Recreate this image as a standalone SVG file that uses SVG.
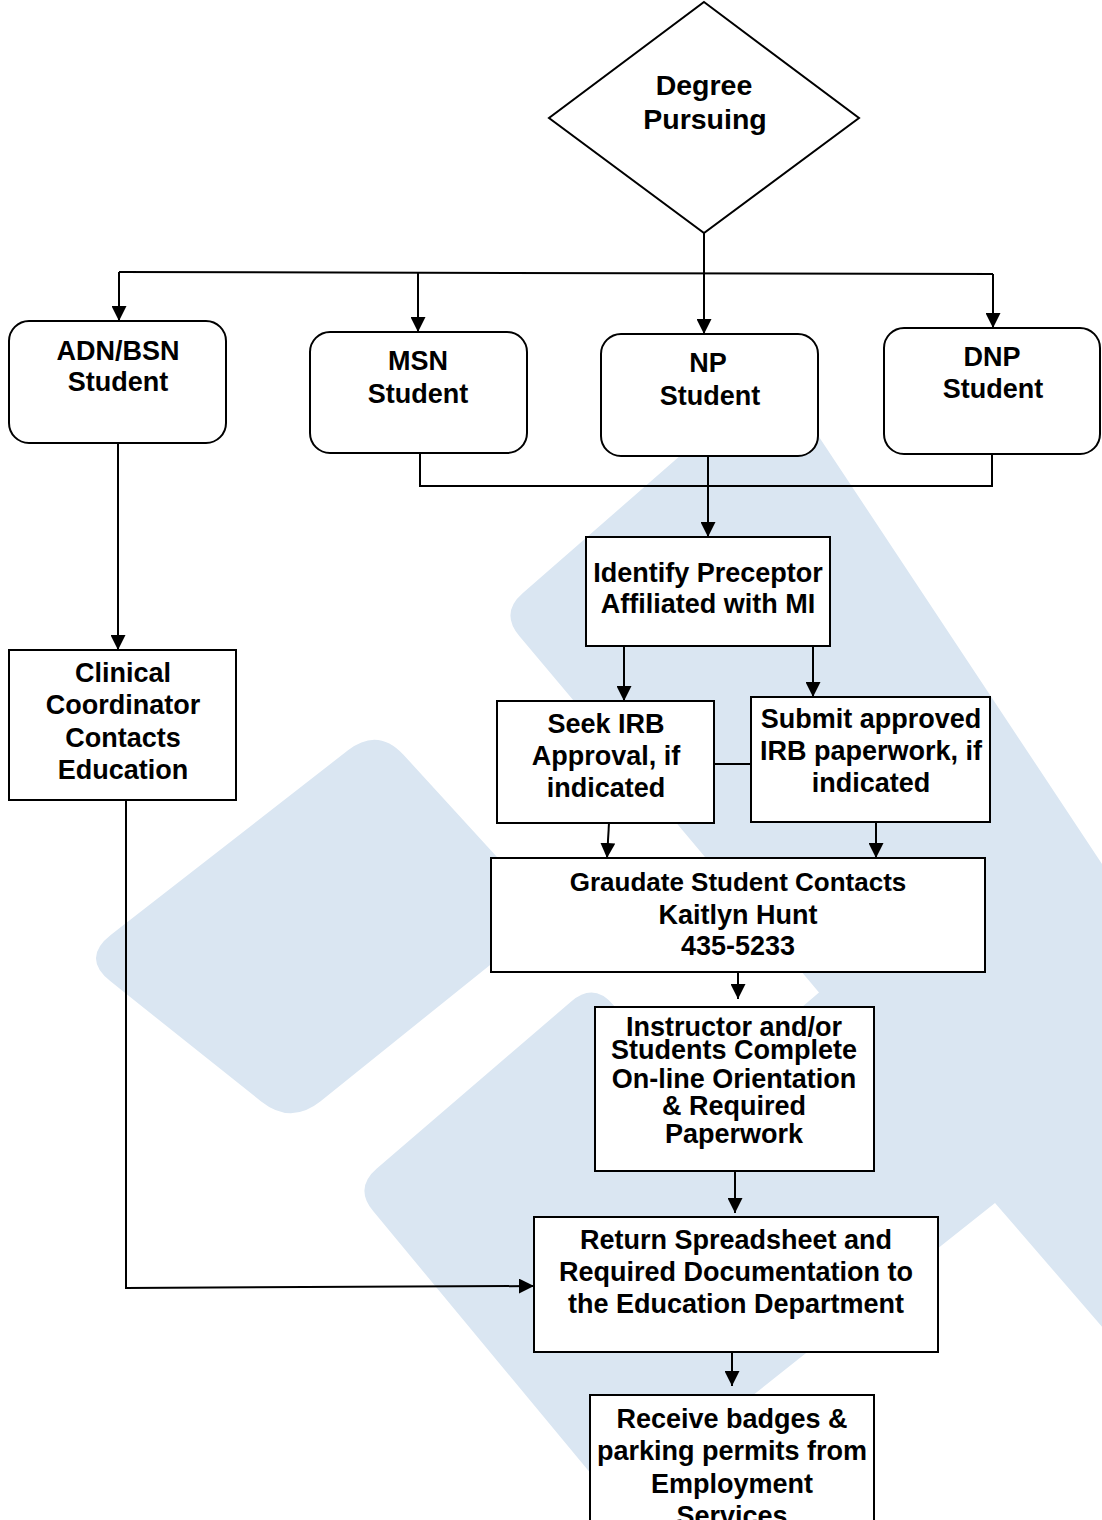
<svg xmlns="http://www.w3.org/2000/svg" width="1102" height="1520" viewBox="0 0 1102 1520">
<defs>
<style>
.bg{fill:#dae6f2;stroke:none}
.box{fill:#fff;stroke:#000;stroke-width:2}
.ln{fill:none;stroke:#000;stroke-width:2}
.t{font-family:"Liberation Sans",Arial,sans-serif;font-weight:bold;font-size:27px;fill:#000;text-anchor:middle}
</style>
<marker id="arr" markerUnits="userSpaceOnUse" markerWidth="15" markerHeight="15" refX="15" refY="7.5" orient="auto"><path d="M0,0 L15,7.5 L0,15 z" fill="#000"/></marker>
</defs>
<rect width="1102" height="1520" fill="#fff"/>
<g id="watermark">
<path class="bg" d="M110.8,981.6 Q81,958 111,934.7 L348,750.3 Q378,727 403.7,755 L525.4,888 Q551,916 521.4,939.8 L320.6,1101.2 Q291,1125 261.2,1101.4 Z"/>
<path class="bg" d="M776,372 L1110,876 L1110,1336 L995,1203 L616,1504 L373.1,1211.1 Q354,1188 376.8,1168.5 L571.2,1001.5 Q594,982 613.3,1005 L693,1100 L819,992.6 L519.3,636 Q500,613 522.6,593.3 Z"/>
</g>
<g id="connectors">
<path class="ln" d="M704,233 V334" marker-end="url(#arr)"/>
<path class="ln" d="M119,272 L993,274"/>
<path class="ln" d="M119,272 V321" marker-end="url(#arr)"/>
<path class="ln" d="M418,273 V332" marker-end="url(#arr)"/>
<path class="ln" d="M993,274 V328" marker-end="url(#arr)"/>
<path class="ln" d="M420,453 V486 H993 M992,454 V486"/>
<path class="ln" d="M708,456 V537" marker-end="url(#arr)"/>
<path class="ln" d="M624,647 V701" marker-end="url(#arr)"/>
<path class="ln" d="M813,647 V697" marker-end="url(#arr)"/>
<path class="ln" d="M714,764 H751"/>
<path class="ln" d="M609,823 L607,858" marker-end="url(#arr)"/>
<path class="ln" d="M876,822 V858" marker-end="url(#arr)"/>
<path class="ln" d="M738,972 V999" marker-end="url(#arr)"/>
<path class="ln" d="M735,1171 V1213" marker-end="url(#arr)"/>
<path class="ln" d="M732,1352 V1386" marker-end="url(#arr)"/>
<path class="ln" d="M118,443 V650" marker-end="url(#arr)"/>
<path class="ln" d="M126,800 V1288 L534,1286" marker-end="url(#arr)"/>
</g>
<g id="degree">
<polygon class="box" points="704,2 859,118 704,233 549,118"/>
<text class="t" style="font-size:28.5px" x="704" y="95">Degree</text>
<text class="t" style="font-size:28.5px" x="705" y="129">Pursuing</text>
</g>
<g id="adn">
<rect class="box" x="9" y="321" width="217" height="122" rx="20"/>
<text class="t" x="118" y="360">ADN/BSN</text>
<text class="t" x="118" y="391">Student</text>
</g>
<g id="msn">
<rect class="box" x="310" y="332" width="217" height="121" rx="20"/>
<text class="t" x="418" y="370">MSN</text>
<text class="t" x="418" y="403">Student</text>
</g>
<g id="np">
<rect class="box" x="601" y="334" width="217" height="122" rx="20"/>
<text class="t" x="708" y="372">NP</text>
<text class="t" x="710" y="405">Student</text>
</g>
<g id="dnp">
<rect class="box" x="884" y="328" width="216" height="126" rx="20"/>
<text class="t" x="992" y="366">DNP</text>
<text class="t" x="993" y="398">Student</text>
</g>
<g id="identify">
<rect class="box" x="586" y="537" width="244" height="109"/>
<text class="t" x="708" y="582">Identify Preceptor</text>
<text class="t" x="708" y="613">Affiliated with MI</text>
</g>
<g id="seek">
<rect class="box" x="497" y="701" width="217" height="122"/>
<text class="t" x="606" y="733">Seek IRB</text>
<text class="t" x="606" y="765">Approval, if</text>
<text class="t" x="606" y="797">indicated</text>
</g>
<g id="submit">
<rect class="box" x="751" y="697" width="239" height="125"/>
<text class="t" x="871" y="728">Submit approved</text>
<text class="t" x="871" y="760">IRB paperwork, if</text>
<text class="t" x="871" y="792">indicated</text>
</g>
<g id="graduate">
<rect class="box" x="491" y="858" width="494" height="114"/>
<text class="t" style="font-size:26px" x="738" y="891">Graudate Student Contacts</text>
<text class="t" x="738" y="924">Kaitlyn Hunt</text>
<text class="t" x="738" y="955">435-5233</text>
</g>
<g id="instructor">
<rect class="box" x="595" y="1007" width="279" height="164"/>
<text class="t" x="734" y="1036">Instructor and/or</text>
<text class="t" x="734" y="1059">Students Complete</text>
<text class="t" x="734" y="1088">On-line Orientation</text>
<text class="t" x="734" y="1115">&amp; Required</text>
<text class="t" x="734" y="1143">Paperwork</text>
</g>
<g id="return">
<rect class="box" x="534" y="1217" width="404" height="135"/>
<text class="t" x="736" y="1249">Return Spreadsheet and</text>
<text class="t" x="736" y="1281">Required Documentation to</text>
<text class="t" x="736" y="1313">the Education Department</text>
</g>
<g id="receive">
<rect class="box" x="590" y="1395" width="284" height="140"/>
<text class="t" x="732" y="1428">Receive badges &amp;</text>
<text class="t" x="732" y="1460">parking permits from</text>
<text class="t" x="732" y="1493">Employment</text>
<text class="t" x="732" y="1525">Services</text>
</g>
<g id="clinical">
<rect class="box" x="9" y="650" width="227" height="150"/>
<text class="t" x="123" y="682">Clinical</text>
<text class="t" x="123" y="714">Coordinator</text>
<text class="t" x="123" y="747">Contacts</text>
<text class="t" x="123" y="779">Education</text>
</g>
</svg>
